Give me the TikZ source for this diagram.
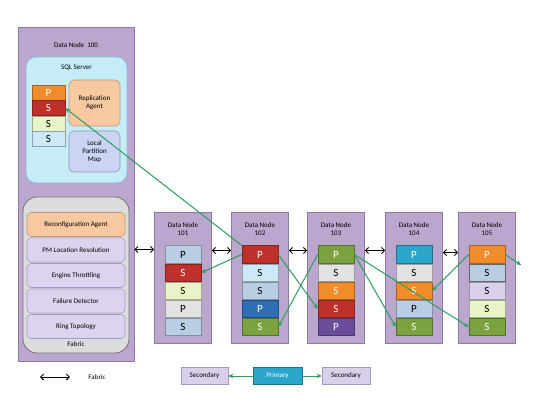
\documentclass[tikz,border=0pt]{standalone}
\usepackage{fontspec}
\setmainfont{Carlito}
\usepackage{xcolor}
\usepackage{tikz}
\usetikzlibrary{positioning,arrows.meta}

\definecolor{boxFill}{HTML}{BBA6CD}
\definecolor{boxLine}{HTML}{8E78A4}
\definecolor{sqlFill}{HTML}{C6ECF8}
\definecolor{sqlLine}{HTML}{86BCD4}
\definecolor{agentFill}{HTML}{F8C8A0}
\definecolor{mapFill}{HTML}{C9D5F3}
\definecolor{fabFill}{HTML}{DCDCDC}
\definecolor{itemFill}{HTML}{DDD3EF}
\definecolor{itemLine}{HTML}{A597C6}
\definecolor{cOrange}{HTML}{F08C2A}
\definecolor{cRed}{HTML}{C0302B}
\definecolor{cLime}{HTML}{E8F4C8}
\definecolor{cIce}{HTML}{CDE9F6}
\definecolor{cSteel}{HTML}{B9CDE5}
\definecolor{cGrey}{HTML}{E2E2E2}
\definecolor{cBlue}{HTML}{2F6EB5}
\definecolor{cGreen}{HTML}{7BA23F}
\definecolor{cPurple}{HTML}{6B4C9A}
\definecolor{cTeal}{HTML}{2BA6CB}
\definecolor{cLav}{HTML}{D9D0EA}
\definecolor{replGreen}{HTML}{2BA05A}

\pgfdeclarelayer{background}
\pgfsetlayers{background,main}

\begin{document}
\begin{tikzpicture}[x=1pt,y=-1pt,
    lbl/.style={font=\fontsize{7}{8}\selectfont, align=center},
    dnode/.style={draw=boxLine, fill=boxFill, line width=0.8pt, minimum width=57pt, minimum height=131pt},
    cell/.style={draw=#1!70!black, fill=#1, line width=0.6pt, minimum width=36pt, minimum height=17.5pt,
        inner sep=0pt, font=\fontsize{11}{11}\selectfont},
    dcell/.style={cell=#1, text=white},
    item/.style={draw=itemLine, fill=itemFill, line width=0.6pt, rounded corners=4pt, minimum width=98pt,
        minimum height=24pt, lbl},
    repl/.style={draw=replGreen, line width=1pt, -{Stealth[length=5pt,width=4.5pt]}},
    fab/.style={{Straight Barb[length=3pt,width=6pt]}-{Straight Barb[length=3pt,width=6pt]}, black, line width=0.9pt}]
    \useasboundingbox[fill=white] (0,0) rectangle (550,412);

    % data node 100
    \node[dnode, minimum width=116pt, minimum height=334pt] (box100) at (76,194) {};
    \node[lbl] (t100) at (76,45) {Data Node~~100};
    \node[draw=sqlLine, fill=sqlFill, line width=0.8pt, rounded corners=10pt, minimum width=101pt, minimum height=126pt] (sql) at (76.5,120) {};
    \node[lbl] (tsql) at (76.5,68) {SQL Server};
    \node[dcell=cOrange, minimum width=33pt, minimum height=15pt] (c100a) at (48.5,92.5) {P};
    \node[dcell=cRed, minimum width=33pt, minimum height=15pt, below=0pt of c100a] (c100b) {S};
    \node[cell=cLime, minimum width=33pt, minimum height=15pt, below=0pt of c100b] (c100c) {S};
    \node[cell=cIce, minimum width=33pt, minimum height=15pt, below=0pt of c100c] (c100d) {S};
    \node[lbl, draw=agentFill!75!black, fill=agentFill, line width=0.6pt, rounded corners=5pt, minimum width=51pt, minimum height=46pt] (agent) at (94.5,103) {Replication\\Agent};
    \node[lbl, draw=mapFill!70!black, fill=mapFill, line width=0.6pt, rounded corners=5pt, minimum width=51pt, minimum height=41pt] (map) at (94.5,151.5) {Local\\Partition\\Map};
    \node[draw=black!55, fill=fabFill, line width=0.8pt, rounded corners=14pt, minimum width=106pt, minimum height=156pt] (fabric) at (76,275) {};
    \node[item, fill=agentFill, draw=agentFill!75!black] (reconf) at (76,224.5) {Reconfiguration Agent};
    \node[item] (pmloc) at (76,250) {PM Location Resolution};
    \node[item] (engine) at (76,275.5) {Engine Throttling};
    \node[item] (fail) at (76,301) {Failure Detector};
    \node[item] (ring) at (76,326.5) {Ring Topology};
    \node[lbl] (tfab) at (76,344) {Fabric};

    % data node 101
    \node[dnode] (dn101) at (183,277.5) {};
    \node[lbl] (t101) at (183,229) {Data Node\\101};
    \node[cell=cSteel] (c101a) at (183,254.5) {P};
    \node[dcell=cRed, below=0pt of c101a] (c101b) {S};
    \node[cell=cLime, below=0pt of c101b] (c101c) {S};
    \node[cell=cGrey, below=0pt of c101c] (c101d) {P};
    \node[cell=cSteel, below=0pt of c101d] (c101e) {S};

    % data node 102
    \node[dnode] (dn102) at (260,277.5) {};
    \node[lbl] (t102) at (260,229) {Data Node\\102};
    \node[dcell=cRed] (c102a) at (260,254.5) {P};
    \node[cell=cIce] (c102b) [below=0pt of c102a] {S};
    \node[cell=cSteel, below=0pt of c102b] (c102c) {S};
    \node[dcell=cBlue, below=0pt of c102c] (c102d) {P};
    \node[dcell=cGreen, below=0pt of c102d] (c102e) {S};

    % data node 103
    \node[dnode] (dn103) at (336,277.5) {};
    \node[lbl] (t103) at (336,229) {Data Node\\103};
    \node[dcell=cGreen] (c103a) at (336,254.5) {P};
    \node[cell=cGrey, below=0pt of c103a] (c103b) {S};
    \node[dcell=cOrange, below=0pt of c103b] (c103c) {S};
    \node[dcell=cRed, below=0pt of c103c] (c103d) {S};
    \node[dcell=cPurple, below=0pt of c103d] (c103e) {P};

    % data node 104
    \node[dnode] (dn104) at (414,277.5) {};
    \node[lbl] (t104) at (414,229) {Data Node\\104};
    \node[dcell=cTeal] (c104a) at (414,254.5) {P};
    \node[cell=cGrey, below=0pt of c104a] (c104b) {S};
    \node[dcell=cOrange, below=0pt of c104b] (c104c) {S};
    \node[cell=cSteel, below=0pt of c104c] (c104d) {P};
    \node[dcell=cGreen, below=0pt of c104d] (c104e) {S};

    % data node 105
    \node[dnode] (dn105) at (487,277.5) {};
    \node[lbl] (t105) at (487,229) {Data Node\\105};
    \node[dcell=cOrange] (c105a) at (487,254.5) {P};
    \node[cell=cSteel, draw=black!60] (c105b) [below=0pt of c105a] {S};
    \node[cell=cLav, below=0pt of c105b] (c105c) {S};
    \node[cell=cLime, below=0pt of c105c] (c105d) {S};
    \node[dcell=cGreen, below=0pt of c105d] (c105e) {S};
    \coordinate (out105) at (521,265);

    % fabric links
    \draw[fab] ([yshift=5pt]box100.east |- c101a) -- ([yshift=5pt]dn101.west |- c101a);
    \draw[fab] ([yshift=4pt]dn101.east |- c101a) -- ([yshift=4pt]dn102.west |- c101a);
    \draw[fab] ([yshift=4pt]dn102.east |- c101a) -- ([yshift=4pt]dn103.west |- c101a);
    \draw[fab] ([yshift=4pt]dn103.east |- c101a) -- ([yshift=4pt]dn104.west |- c101a);
    \draw[fab] ([yshift=2pt]dn104.east |- c101a) -- ([yshift=2pt]dn105.west |- c101a);

    % replication
    \begin{pgfonlayer}{background}
        \draw[repl] (c105a.west) -- (c103c.east);
    \end{pgfonlayer}
    \draw[repl] (c102a.north west) -- (c100b.east);
    \draw[repl] (c102a.west) -- (c101b.east);
    \draw[repl] (c102a.east) -- (c103d.west);
    \draw[repl] (c103a.west) -- (c102e.east);
    \draw[repl] (c103a.east) -- (c104e.west);
    \draw[repl] (c103a.east) -- (c105e.west);
    \draw[repl] (c105a.west) -- (c104c.east);
    \draw[repl] (c105a.east) -- (out105);

    % legend
    \coordinate (legl) at (40,377);
    \coordinate (legr) at (70,377);
    \draw[fab] (legl) -- (legr);
    \node[lbl] (legfab) at (97,377) {Fabric};
    \node[lbl, draw=itemLine, fill=cLav, line width=0.6pt, minimum width=47pt, minimum height=17pt] (sec1) at (204.5,376) {Secondary};
    \node[lbl, draw=cTeal!70!black, fill=cTeal, line width=0.6pt, text=white, minimum width=49pt, minimum height=17pt] (prim) at (277.5,376) {Primary};
    \node[lbl, draw=itemLine, fill=cLav, line width=0.6pt, minimum width=48pt, minimum height=17pt] (sec2) at (346,376) {Secondary};
    \draw[repl] (prim) -- (sec1);
    \draw[repl] (prim) -- (sec2);
\end{tikzpicture}
\end{document}
